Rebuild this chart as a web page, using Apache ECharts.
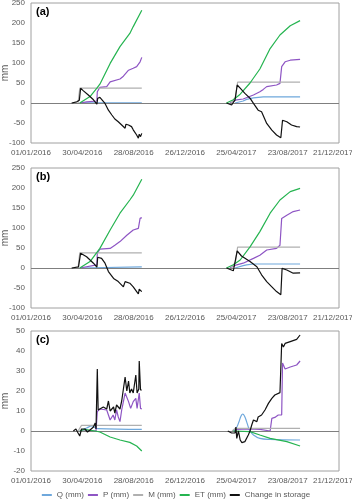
<!DOCTYPE html>
<html>
<head>
<meta charset="utf-8">
<script src="https://cdn.jsdelivr.net/npm/echarts@6/dist/echarts.min.js"></script>
<style>html,body{margin:0;padding:0;background:#fff}#c{width:352px;height:500px}</style>
</head>
<body>
<div id="c"></div>
<script>
// x values: days since 01/01/2016
const xTickStart = 0, xTickEnd = 720, xTickStep = 120;
const seriesNames = ['Q (mm)', 'P (mm)', 'M (mm)', 'ET (mm)', 'Change in storage'];
const panelLabels = ['(a)', '(b)', '(c)'];

// ---- Panel (a) ----
const qA16 = [[114,0],[120,0.5],[259,0.5]];
const qA17 = [[477,0],[496,5],[504,9],[520,13],[543,15.5],[629,15.5]];
const pA16 = [[114,0],[130,3],[154,5],[155,28],[161,39],[177,41],[185,53],[208,60],[216,67],[228,82],[239,87],[247,91],[255,103],[259,114]];
const pA17 = [[465,0],[481,8],[496,10],[520,20],[535,28],[543,34],[551,41],[574,45],[582,49],[586,91],[594,103],[606,107],[629,109]];
const mA16 = [[110,0],[114,37],[259,37]];
const mA17 = [[468,0],[478,15],[483,52],[629,52]];
const etA16 = [[114,0],[138,16],[154,37],[161,47],[185,99],[208,141],[231,174],[239,191],[259,232]];
const etA17 = [[457,0],[473,8],[489,22],[512,50],[535,85],[559,136],[582,170],[606,193],[629,206]];
const sA16 = [[95,0],[107,3],[113,7],[116,37],[122,31],[134,20],[146,8],[154,-3],[156,12],[161,14],[165,12],[173,-1],[181,-18],[189,-30],[196,-40],[204,-47],[212,-55],[220,-63],[222,-53],[228,-55],[235,-59],[239,-67],[247,-80],[251,-88],[253,-78],[256,-84],[259,-76]];
const sA17 = [[457,0],[469,-5],[473,-7],[477,8],[482,45],[489,37],[500,24],[512,12],[520,-1],[531,-18],[539,-22],[551,-51],[563,-68],[574,-80],[584,-87],[588,-43],[598,-47],[609,-55],[621,-59],[629,-60]];

// ---- Panel (b) ----
const qB16 = [[114,0],[118,3],[259,3]];
const qB17 = [[477,0],[496,6],[504,8],[520,10],[629,10]];
const pB16 = [[114,0],[154,8],[155,37],[161,47],[185,49],[196,57],[208,66],[224,82],[239,95],[251,99],[255,124],[259,126]];
const pB17 = [[465,0],[481,8],[496,12],[520,24],[535,32],[551,45],[574,49],[582,57],[586,124],[598,132],[613,141],[629,145]];
const mB16 = [[110,0],[114,38],[259,38]];
const mB17 = [[468,0],[478,15],[483,52],[629,52]];
const etB16 = [[114,0],[138,16],[161,49],[185,95],[208,137],[231,170],[239,182],[259,222]];
const etB17 = [[457,0],[473,8],[489,20],[512,53],[535,91],[559,137],[582,170],[606,191],[629,199]];
const sB16 = [[95,0],[111,3],[116,37],[130,28],[146,12],[154,2],[156,27],[165,24],[173,12],[181,-9],[193,-26],[204,-34],[216,-47],[220,-34],[231,-38],[239,-47],[247,-59],[251,-65],[253,-53],[259,-59]];
const sB17 = [[457,0],[473,-7],[482,43],[492,30],[512,16],[528,3],[539,-17],[551,-34],[563,-47],[574,-59],[584,-67],[587,-1],[598,-5],[613,-13],[629,-12]];

// ---- Panel (c) ----
const qC16 = [[114,0],[130,1.5],[142,2.5],[155,1.2],[259,0.8]];
const qC17 = [[473,0],[480,1.5],[486,4.5],[491,7.5],[495,8.5],[499,7.5],[504,4.7],[508,2],[512,0],[520,-2],[535,-3.7],[559,-4.2],[629,-4.5]];
const pC16 = [[114,0],[152,0],[155,9.7],[161,11],[177,10.5],[181,8],[185,5.5],[192,8],[196,5.5],[200,10.5],[204,7],[208,4.7],[212,10.5],[216,14.7],[220,19],[228,14.7],[233,11.3],[239,14.7],[245,16.3],[248,11.3],[253,19],[256,11.3],[259,11]];
const pC17 = [[477,0.8],[481,1.3],[512,1],[516,0.5],[535,0.8],[539,0],[559,0],[563,6.3],[570,6.8],[578,8],[586,8],[588,34],[594,31],[606,32],[621,33],[629,35]];
const mC16 = [[110,0],[118,2.8],[259,2.8]];
const mC17 = [[470,0],[477,1.3],[629,1.3]];
const etC16 = [[114,0],[125,0.8],[140,0.3],[150,0],[161,-0.5],[185,-3],[208,-4.5],[231,-5.7],[247,-7.5],[259,-10]];
const etC17 = [[473,0],[512,-0.3],[535,-2],[559,-3.7],[598,-5.3],[629,-7.5]];
const sC16 = [[99,0],[105,1],[110,-1],[114,-2.5],[118,1],[122,0],[126,1],[132,-0.5],[138,0.5],[142,0],[146,2],[150,4],[152,1],[155,31],[157,10.5],[161,11],[169,12],[177,11],[181,15],[185,10],[193,12],[196,9],[200,13],[204,14],[208,11],[212,15],[216,15.5],[220,27],[224,20],[228,25],[231,19],[235,21],[239,19],[245,28],[248,19],[252,21],[253,35],[256,20.5],[259,20.5]];
const sC17 = [[460,0],[469,-1],[477,-1],[479,2],[481,-3.7],[485,0],[489,-4.5],[493,-5.8],[500,-5.3],[508,-2],[512,0],[516,3],[520,5.5],[528,4.7],[531,7],[539,8],[547,10.5],[555,13.8],[563,16.3],[570,18],[582,19.2],[586,43.8],[590,42],[594,43.8],[606,44.7],[621,45.8],[629,48]];

const panels = [
  {q:[qA16,qA17], p:[pA16,pA17], m:[mA16,mA17], et:[etA16,etA17], s:[sA16,sA17], min:-100, max:250, step:50},
  {q:[qB16,qB17], p:[pB16,pB17], m:[mB16,mB17], et:[etB16,etB17], s:[sB16,sB17], min:-100, max:250, step:50},
  {q:[qC16,qC17], p:[pC16,pC17], m:[mC16,mC17], et:[etC16,etC17], s:[sC16,sC17], min:-20, max:50, step:10}
];

const colors = ['#6FA8DC', '#8E55C4', '#B0B0B0', '#25B450', '#111111'];
const gridTops = [3, 168, 331];
const FONT = 'Liberation Sans, Arial, sans-serif';
const START = Date.UTC(2016, 0, 1);
function pad(n){ return (n < 10 ? '0' : '') + n; }
function fmtDay(v){
  const d = new Date(START + v * 86400000);
  const s = pad(d.getUTCDate()) + '/' + pad(d.getUTCMonth() + 1) + '/' + d.getUTCFullYear();
  return v >= xTickEnd ? '{last|' + s + '}' : s;
}
function joinSeg(a, b){ return a.concat([[365, '-']], b); }

const grids = [], xAxes = [], yAxes = [], series = [], graphics = [];
panels.forEach((pn, i) => {
  grids.push({left: 31, width: 308, top: gridTops[i], height: 140, show: true, borderColor: '#A0A0A0', borderWidth: 1,
    backgroundColor: 'transparent', containLabel: false, outerBoundsMode: 'none'});
  xAxes.push({type: 'value', gridIndex: i, min: xTickStart, max: xTickEnd, interval: xTickStep,
    axisLine: {show: false}, axisTick: {show: false}, splitLine: {show: false},
    axisLabel: {color: '#595959', fontSize: 8, fontFamily: FONT, margin: 6, formatter: fmtDay, hideOverlap: false,
      rich: {last: {color: '#595959', fontSize: 8, fontFamily: FONT, padding: [0, 12, 0, 0]}}}});
  yAxes.push({type: 'value', gridIndex: i, min: pn.min, max: pn.max, interval: pn.step,
    axisLine: {show: false}, axisTick: {show: false}, splitLine: {show: false},
    axisLabel: {color: '#595959', fontSize: 8, fontFamily: FONT, margin: 6},
    name: 'mm', nameLocation: 'middle', nameGap: 21, nameMoveOverlap: false,
    nameTextStyle: {color: '#595959', fontSize: 10, fontFamily: FONT}});
  const keys = ['q', 'p', 'm', 'et', 's'];
  keys.forEach((k, j) => {
    const s = {
      name: seriesNames[j], type: 'line', xAxisIndex: i, yAxisIndex: i,
      data: joinSeg(pn[k][0], pn[k][1]), showSymbol: false, symbol: 'none',
      smooth: (k === 'q' && i === 2) ? 0.4 : false,
      lineStyle: {color: colors[j], width: 1.2}, itemStyle: {color: colors[j]},
      connectNulls: false, animation: false, z: 2 + j
    };
    if (j === 0) {
      s.markLine = {silent: true, symbol: ['none', 'none'], label: {show: false}, animation: false,
        lineStyle: {color: '#7F7F7F', width: 1, type: 'solid'}, data: [{yAxis: 0}]};
    }
    series.push(s);
  });
  graphics.push({type: 'text', left: 36, top: gridTops[i] + 3,
    style: {text: panelLabels[i], fill: '#000', font: 'bold 11px ' + FONT}});
});

const chart = echarts.init(document.getElementById('c'), null, {renderer: 'canvas'});
chart.setOption({
  animation: false,
  grid: grids, xAxis: xAxes, yAxis: yAxes, series: series, graphic: graphics,
  legend: {data: seriesNames, left: 'center', top: 486, icon: 'rect', itemWidth: 10, itemHeight: 2, itemGap: 4,
    textStyle: {color: '#595959', fontSize: 8, fontFamily: FONT}}
});
</script>
</body>
</html>
